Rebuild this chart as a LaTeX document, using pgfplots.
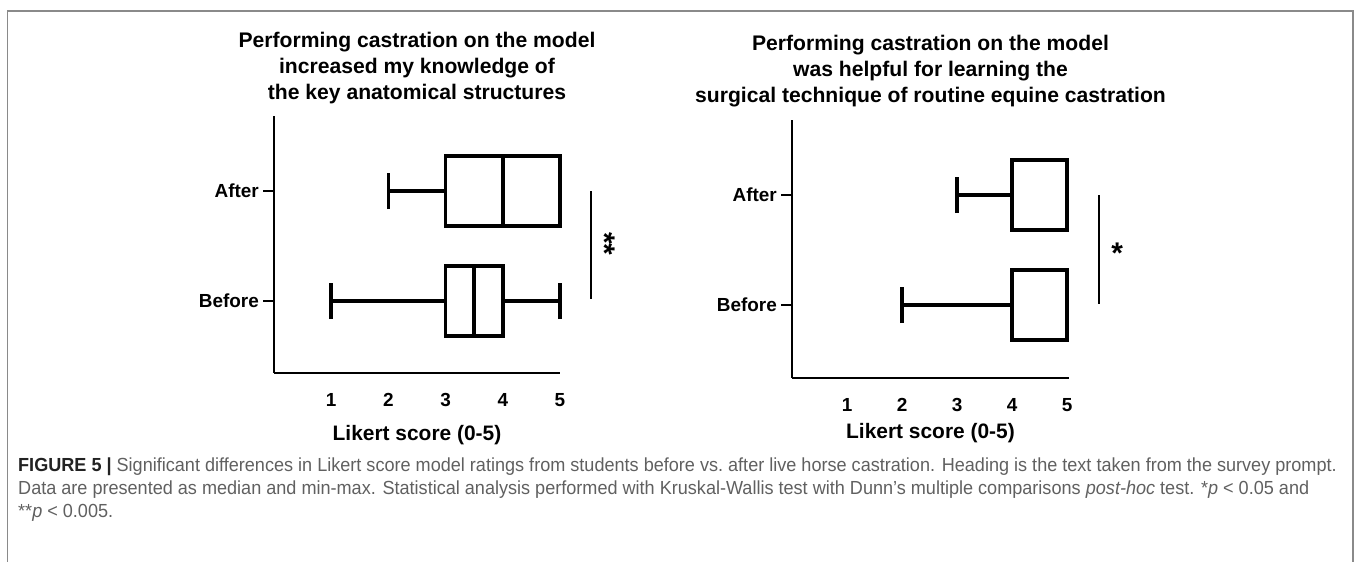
\documentclass[border=0pt]{standalone}
\usepackage{fontspec}
\usepackage{pgfplots}
\pgfplotsset{compat=1.18}
\usepgfplotslibrary{statistics}
\newfontfamily\cf{Liberation Sans}
\newfontfamily\capf{Liberation Sans}[FakeStretch=0.955]
\definecolor{capgray}{HTML}{606060}
\definecolor{capdark}{HTML}{222222}
\definecolor{framegray}{HTML}{8A8A8A}

\pgfplotsset{
  likert/.style={
    scale only axis,
    anchor=south west,
    clip=false,
    axis lines*=left,
    axis line style={-, line width=2.6bp, black},
    tick pos=left,
    xmin=0,
    xtick={1,2,3,4,5},
    xticklabels={1,2,3,4,5},
    xtick style={draw=none},
    ytick={0,1},
    yticklabels={Before,After},
    tick align=outside,
    major tick length=11bp,
    ytick style={line width=2.6bp, black},
    /pgf/number format/assume math mode=true,
    xticklabel style={font=\cf\bfseries\fontsize{19}{22}\selectfont, anchor=base, yshift=-22bp},
    yticklabel style={font=\cf\bfseries\fontsize{19}{22}\selectfont, anchor=east, inner sep=0pt, xshift=-4bp},
    xlabel={Likert score (0-5)},
    title style={font=\cf\bfseries\fontsize{21.2}{26}\selectfont, align=center,
      at={(axis description cs:0.5,1)}, anchor=south, inner sep=0pt},
    boxplot/draw direction=x,
  },
  bx/.style={black, solid, line width=3.5bp, mark=none},
}

\begin{document}
\begin{tikzpicture}
\path[use as bounding box] (0,0) rectangle (1357bp,562bp);

% ---------------- left panel ----------------
\begin{axis}[likert,
  at={(274bp,189bp)}, width=286bp, height=257bp,
  xmax=5, ymin=-0.6545, ymax=1.682,
  xlabel style={font=\cf\bfseries\fontsize{21}{24}\selectfont, at={(axis description cs:0.5,0)}, anchor=base, yshift=-67bp},
  title style={yshift=6bp},
  title={Performing castration on the model\\increased my knowledge of\\the key anatomical structures},
]
\addplot[bx, boxplot prepared={lower whisker=1, lower quartile=3, median=3.5,
  upper quartile=4, upper whisker=5, draw position=0, box extend=0.64, whisker extend=0.33}] coordinates {};
\addplot[bx, boxplot prepared={lower whisker=2, lower quartile=3, median=4,
  upper quartile=5, upper whisker=5, draw position=1, box extend=0.64, whisker extend=0.33}] coordinates {};
\draw[line width=1.7bp] (axis cs:5.537,0.02) -- (axis cs:5.537,1);
\node[font=\cf\bfseries\fontsize{30}{30}\selectfont, rotate=-90, inner sep=0pt] at (axis cs:5.78,0.52) {**};
\end{axis}

% ---------------- right panel ----------------
\begin{axis}[likert,
  at={(792bp,184bp)}, width=277bp, height=258bp,
  xmax=5.036, ymin=-0.6636, ymax=1.682,
  xlabel style={font=\cf\bfseries\fontsize{21}{24}\selectfont, at={(axis description cs:0.5,0)}, anchor=base, yshift=-61bp},
  title style={yshift=7bp},
  title={Performing castration on the model\\was helpful for learning the\\surgical technique of routine equine castration},
]
\addplot[bx, boxplot prepared={lower whisker=2, lower quartile=4, median=4,
  upper quartile=5, upper whisker=5, draw position=0, box extend=0.64, whisker extend=0.33}] coordinates {};
\addplot[bx, boxplot prepared={lower whisker=3, lower quartile=4, median=4,
  upper quartile=5, upper whisker=5, draw position=1, box extend=0.64, whisker extend=0.33}] coordinates {};
\draw[line width=1.7bp] (axis cs:5.58,0.01) -- (axis cs:5.58,1);
\node[font=\cf\bfseries\fontsize{30}{30}\selectfont, inner sep=0pt] at (axis cs:5.91,0.47) {*};
\end{axis}

% ---------------- frame and caption ----------------
\draw[framegray, line width=1.6bp] (7.5bp,0) -- (7.5bp,551bp) -- (1353bp,551bp) -- (1353bp,0);

\begin{scope}[every node/.style={anchor=base west, inner sep=0pt, text=capgray,
    font=\capf\fontsize{19}{23}\selectfont}]
\node at (18bp,90bp) {\textcolor{capdark}{\bfseries FIGURE 5 |} Significant differences in Likert score model ratings from students before vs.\ after live horse castration. Heading is the text taken from the survey prompt.};
\node at (18bp,67bp) {Data are presented as median and min-max. Statistical analysis performed with Kruskal-Wallis test with Dunn’s multiple comparisons \textit{post-hoc} test. *\textit{p} < 0.05 and};
\node at (18bp,44bp) {**\textit{p} < 0.005.};
\end{scope}
\end{tikzpicture}
\end{document}
